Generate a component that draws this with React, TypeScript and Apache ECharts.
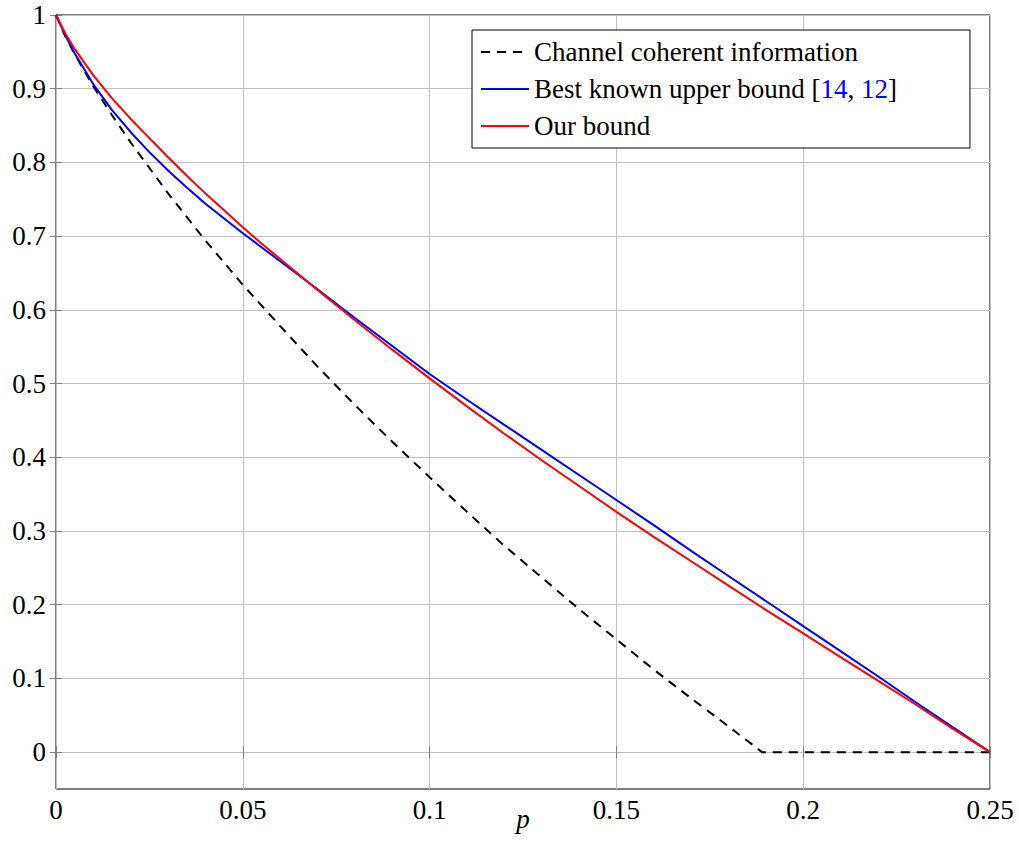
import React, { useEffect, useRef } from "react";
import * as echarts from "echarts";

const FONT = "serif";

// p grid for the two bounds
const pGrid = [0, 0.0025, 0.005, 0.01, 0.015, 0.02, 0.025, 0.03, 0.035, 0.04, 0.045, 0.05, 0.055, 0.06, 0.07, 0.08, 0.09, 0.1, 0.11, 0.12, 0.13, 0.14, 0.15, 0.16, 0.17, 0.18, 0.19, 0.2, 0.21, 0.22, 0.23, 0.24, 0.25];
const bestKnown = [1, 0.972, 0.948, 0.906, 0.871, 0.841, 0.814, 0.789, 0.766, 0.744, 0.724, 0.704, 0.685, 0.666, 0.628, 0.589, 0.551, 0.513, 0.478, 0.444, 0.41, 0.376, 0.342, 0.308, 0.273, 0.239, 0.205, 0.171, 0.137, 0.103, 0.068, 0.034, 0];
const ourBound = [1, 0.975, 0.954, 0.918, 0.887, 0.859, 0.833, 0.807, 0.782, 0.758, 0.735, 0.712, 0.69, 0.669, 0.627, 0.586, 0.546, 0.507, 0.469, 0.432, 0.396, 0.361, 0.326, 0.292, 0.259, 0.226, 0.193, 0.161, 0.129, 0.097, 0.065, 0.032, 0];

// channel coherent information
const cohP = [0, 0.0025, 0.005, 0.01, 0.015, 0.02, 0.03, 0.04, 0.05, 0.06, 0.07, 0.08, 0.09, 0.1, 0.11, 0.12, 0.13, 0.14, 0.15, 0.16, 0.17, 0.18, 0.189, 0.25];
const cohV = [1, 0.971, 0.947, 0.903, 0.864, 0.827, 0.758, 0.694, 0.634, 0.578, 0.523, 0.471, 0.421, 0.373, 0.326, 0.28, 0.237, 0.194, 0.153, 0.112, 0.073, 0.035, 0, 0];

const yTicks = [0, 0.1, 0.2, 0.3, 0.4, 0.5, 0.6, 0.7, 0.8, 0.9, 1];
const seriesNames = ["Channel coherent information", "Best known upper bound", "Our bound"];

const fmt = (v: number) => String(+v.toFixed(2));

export default function App() {
  const ref = useRef<HTMLDivElement>(null);
  useEffect(() => {
    if (!ref.current) return;
    const chart = echarts.init(ref.current, null, { renderer: "svg" });
    const zip = (xs: number[], ys: number[]) => xs.map((x, i) => [x, ys[i]]);
    const labelStyle = { fontFamily: FONT, fontSize: 27, color: "#000" };
    const tick = { show: true, inside: true, length: 6, lineStyle: { color: "#808080", width: 1 } };
    chart.setOption({
      animation: false,
      backgroundColor: "#fff",
      textStyle: { fontFamily: FONT },
      grid: { left: 56, top: 15, width: 934, height: 774, show: true, borderColor: "#000", borderWidth: 1, backgroundColor: "transparent" },
      legend: {
        data: seriesNames,
        orient: "vertical",
        left: 472,
        top: 30,
        padding: [7, 73, 7, 8],
        itemGap: 7,
        itemWidth: 48,
        itemHeight: 14,
        borderColor: "#000",
        borderWidth: 1,
        borderRadius: 0,
        backgroundColor: "#fff",
        itemStyle: { opacity: 0 },
        textStyle: { ...labelStyle, lineHeight: 30, rich: { b: { ...labelStyle, color: "#0000ff", lineHeight: 30 } } },
        formatter: (name: string) => (name === "Best known upper bound" ? "Best known upper bound [{b|14}, {b|12}]" : name),
      },
      xAxis: [
        {
          type: "value",
          min: 0,
          max: 0.25,
          interval: 0.05,
          position: "bottom",
          axisLine: { show: false },
          axisTick: tick,
          axisLabel: { ...labelStyle, margin: 7, formatter: fmt },
          splitLine: { show: true, lineStyle: { color: "#c0c0c0", width: 1 } },
          name: "p",
          nameLocation: "middle",
          nameGap: 16,
          nameMoveOverlap: false,
          nameTextStyle: { ...labelStyle, fontStyle: "italic" },
        },
        {
          type: "value",
          min: 0,
          max: 0.25,
          interval: 0.05,
          position: "top",
          axisLine: { show: false },
          axisTick: tick,
          axisLabel: { show: false },
          splitLine: { show: false },
        },
      ],
      yAxis: [
        {
          type: "value",
          min: -0.05,
          max: 1,
          interval: 0.05,
          position: "left",
          axisLine: { show: false },
          axisTick: { ...tick, customValues: yTicks },
          axisLabel: { ...labelStyle, margin: 10, customValues: yTicks, formatter: fmt },
          splitLine: { show: false },
        },
        {
          type: "value",
          min: -0.05,
          max: 1,
          interval: 0.05,
          position: "right",
          axisLine: { show: false },
          axisTick: { ...tick, customValues: yTicks },
          axisLabel: { show: false },
          splitLine: { show: false },
        },
      ],
      series: [
        {
          name: "gridlines",
          type: "line",
          data: [],
          z: 0,
          silent: true,
          markLine: {
            silent: true,
            z: 0,
            symbol: "none",
            animation: false,
            label: { show: false },
            lineStyle: { color: "#c0c0c0", width: 1, type: "solid" },
            emphasis: { disabled: true },
            data: yTicks.map((v) => ({ yAxis: v })),
          },
        },
        {
          name: seriesNames[0],
          type: "line",
          data: zip(cohP, cohV),
          showSymbol: false,
          symbol: "none",
          z: 3,
          lineStyle: { color: "#000", width: 2, type: [9, 7] },
          itemStyle: { color: "#000" },
        },
        {
          name: seriesNames[1],
          type: "line",
          data: zip(pGrid, bestKnown),
          showSymbol: false,
          symbol: "none",
          z: 4,
          lineStyle: { color: "#0000ff", width: 2 },
          itemStyle: { color: "#0000ff" },
        },
        {
          name: seriesNames[2],
          type: "line",
          data: zip(pGrid, ourBound),
          showSymbol: false,
          symbol: "none",
          z: 5,
          lineStyle: { color: "#ff0000", width: 2 },
          itemStyle: { color: "#ff0000" },
        },
      ],
    });
    return () => chart.dispose();
  }, []);
  return <div ref={ref} style={{ position: "fixed", left: 0, top: 0, width: 1019, height: 858 }} />;
}
